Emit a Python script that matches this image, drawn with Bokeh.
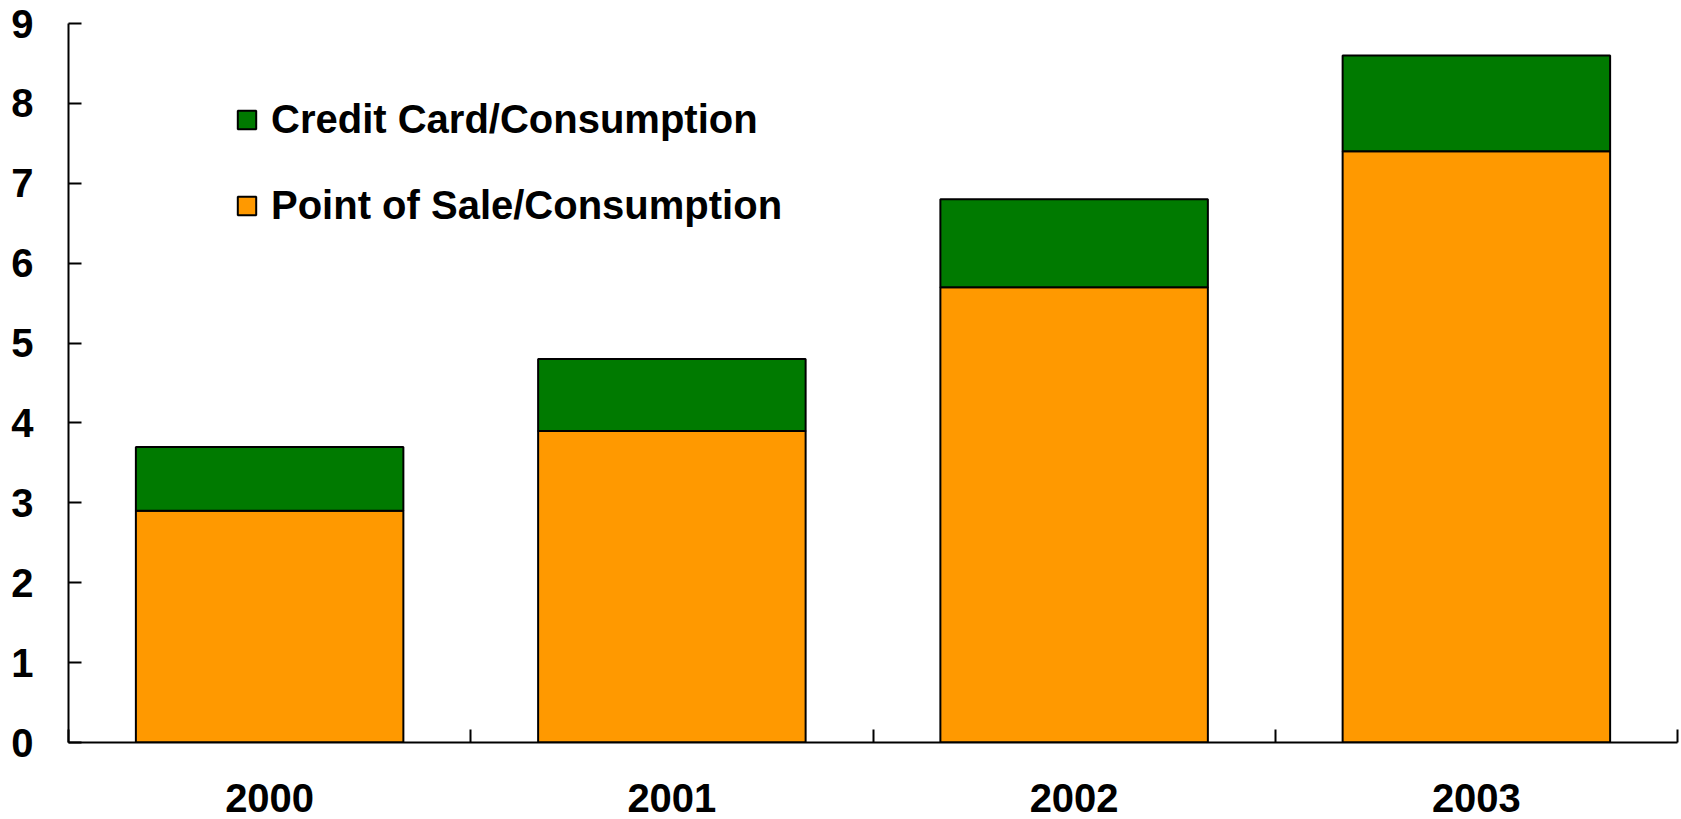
from bokeh.plotting import figure
from bokeh.models import Range1d, FixedTicker, Legend, LegendItem, ColumnDataSource
from bokeh.embed import file_html
from bokeh.resources import INLINE

years = ["2000", "2001", "2002", "2003"]
point_of_sale = [2.9, 3.9, 5.7, 7.4]
credit_card = [0.8, 0.9, 1.1, 1.2]
y_ticks = [0, 1, 2, 3, 4, 5, 6, 7, 8, 9]

FONT = "Liberation Sans"
GREEN = "#007A00"
ORANGE = "#FF9900"

xs = [i + 0.5 for i in range(len(years))]
totals = [a + b for a, b in zip(point_of_sale, credit_card)]
src = ColumnDataSource(dict(x=xs, pos=point_of_sale, total=totals))

p = figure(width=1681, height=819, output_backend="svg", toolbar_location=None,
           x_range=Range1d(0, len(years)), y_range=Range1d(0, 9),
           min_border_left=68, min_border_right=4, min_border_top=23, min_border_bottom=77)
p.outline_line_color = None
p.xgrid.visible = False
p.ygrid.visible = False
p.background_fill_color = "white"
p.border_fill_color = "white"

r_pos = p.vbar(x="x", bottom=0, top="pos", width=0.665, source=src,
               fill_color=ORANGE, line_color="black", line_width=2)
r_cc = p.vbar(x="x", bottom="pos", top="total", width=0.665, source=src,
              fill_color=GREEN, line_color="black", line_width=2)

# x axis
xa = p.xaxis[0]
xa.ticker = FixedTicker(ticks=xs, minor_ticks=list(range(len(years) + 1)))
xa.major_label_overrides = {x: y for x, y in zip(xs, years)}
xa.major_tick_in = 0
xa.major_tick_out = 0
xa.minor_tick_in = 13
xa.minor_tick_out = 0
xa.minor_tick_line_color = "black"
xa.minor_tick_line_width = 2
xa.axis_line_width = 2
xa.axis_line_color = "black"
xa.major_label_text_font = FONT
xa.major_label_text_font_style = "bold"
xa.major_label_text_font_size = "40px"
xa.major_label_text_color = "black"
xa.major_label_standoff = 41

# y axis
ya = p.yaxis[0]
ya.ticker = FixedTicker(ticks=y_ticks)
ya.major_tick_in = 13
ya.major_tick_out = 0
ya.minor_tick_in = 0
ya.minor_tick_out = 0
ya.major_tick_line_width = 2
ya.major_tick_line_color = "black"
ya.axis_line_width = 2
ya.axis_line_color = "black"
ya.major_label_text_font = FONT
ya.major_label_text_font_style = "bold"
ya.major_label_text_font_size = "40px"
ya.major_label_text_color = "black"
ya.major_label_standoff = 35

legend = Legend(items=[LegendItem(label="Credit Card/Consumption", renderers=[r_cc]),
                       LegendItem(label="Point of Sale/Consumption", renderers=[r_pos])],
                location=(167, 514), orientation="vertical",
                label_text_font=FONT, label_text_font_style="bold",
                label_text_font_size="40px", label_text_color="black",
                glyph_width=23, glyph_height=23, label_standoff=13,
                label_height=46, spacing=40, padding=0, margin=0,
                border_line_color=None, background_fill_alpha=0)
p.add_layout(legend, "center")

open("out.html", "w").write(file_html(p, INLINE))
